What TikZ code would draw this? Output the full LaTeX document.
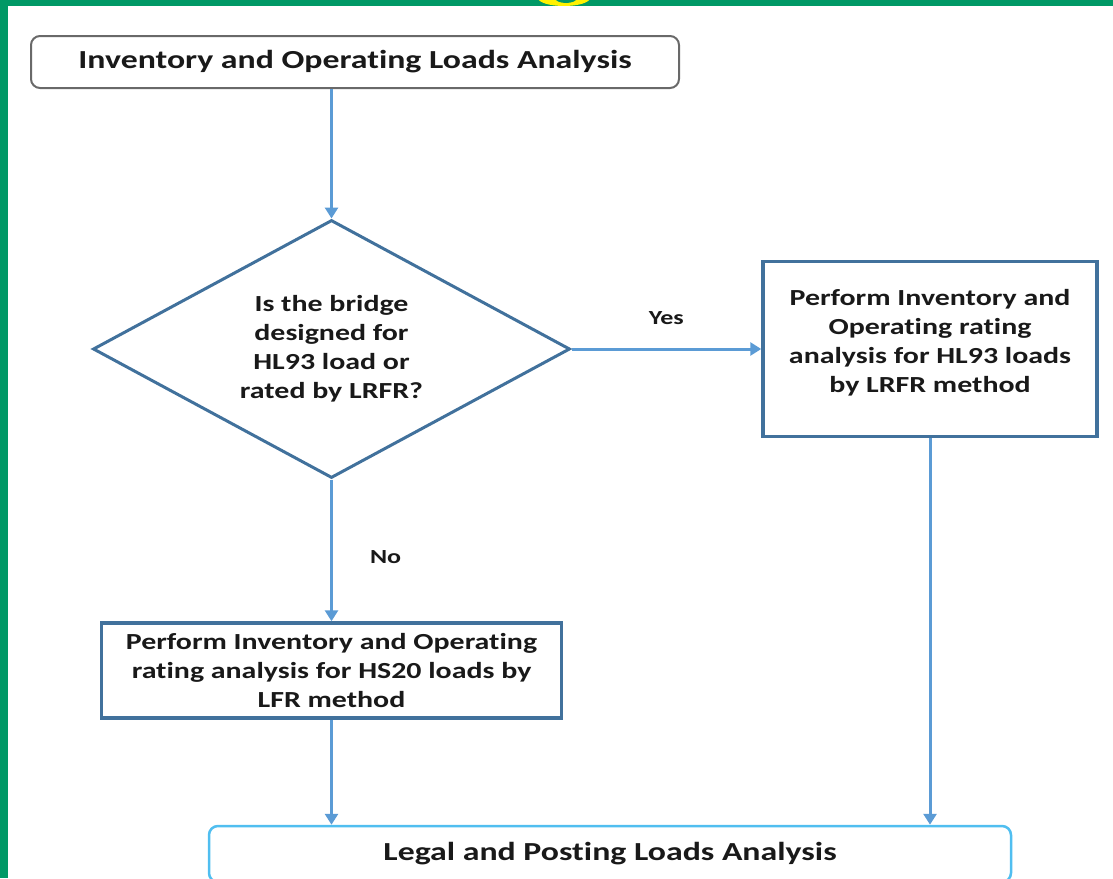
\documentclass[tikz,border=0pt]{standalone}
\usepackage{fontspec}
\setmainfont{Carlito}[FakeStretch=1.3, Ligatures={NoCommon,NoContextual}, Contextuals=NoAlternate]
\usetikzlibrary{shapes.geometric,arrows.meta}
\definecolor{framegreen}{RGB}{0,153,102}
\definecolor{ringyellow}{RGB}{255,242,0}
\definecolor{boxblue}{RGB}{65,113,156}
\definecolor{arrowblue}{RGB}{91,155,213}
\definecolor{endblue}{RGB}{80,190,240}
\definecolor{startgray}{RGB}{105,105,105}
\definecolor{textdark}{RGB}{25,25,25}

\begin{document}
\begin{tikzpicture}[x=1pt, y=1pt, node distance=2cm, auto,
  every node/.style={text=textdark, font=\bfseries},
  termbox/.style={rectangle, rounded corners=9pt, inner sep=0pt, fill=white,
    font=\bfseries\fontsize{26}{31}\selectfont},
  procbox/.style={rectangle, draw=boxblue, line width=3.5pt, inner sep=0pt, align=center,
    font=\bfseries\fontsize{23}{29}\selectfont},
  decision/.style={diamond, shape aspect=1.85, draw=boxblue, line width=3pt, inner sep=0pt,
    align=center, font=\bfseries\fontsize{23}{29}\selectfont},
  flow/.style={draw=arrowblue, line width=3pt, -{Triangle[length=11pt,width=13pt]}},
  answer/.style={font=\bfseries\fontsize{20}{24}\selectfont}]
  \useasboundingbox (0,0) rectangle (1113,-878);

  % slide frame
  \fill[framegreen] (0,0) rectangle (1113,-6);
  \fill[framegreen] (0,0) rectangle (8,-878);
  \fill[ringyellow] (564,2) ellipse (26 and 8);
  \fill[framegreen] (566,2) ellipse (11 and 5);

  \node (inv) [termbox, draw=startgray, line width=2pt, minimum width=648pt, minimum height=52pt]
    at (355,-62) {Inventory and Operating Loads Analysis};
  \node (dec) [decision, below of=inv, node distance=287pt, xshift=-23.5pt,
    minimum width=477pt, minimum height=258pt]
    {Is the bridge\\designed for\\HL93 load or\\rated by LRFR?};
  \node (hl) [procbox, right of=dec, node distance=598.5pt, minimum width=334pt, minimum height=175pt]
    {Perform Inventory and\\Operating rating\\analysis for HL93 loads\\by LRFR method\\[-12pt]};
  \node (hs) [procbox, below of=dec, node distance=321.5pt, minimum width=460pt, minimum height=95pt]
    {Perform Inventory and Operating\\rating analysis for HS20 loads by\\LFR method};
  \node (legal) [termbox, draw=endblue, line width=2.5pt, below of=hs, node distance=183.5pt,
    xshift=278.5pt, minimum width=802pt, minimum height=56pt]
    {Legal and Posting Loads Analysis};

  \draw[flow] (inv.south -| dec.north) -- (dec.north);
  \draw[flow] (dec) to node [answer, inner sep=23pt] {Yes} (hl);
  \draw[flow] (dec) to node [answer, pos=.55, inner sep=37pt] {No} (hs);
  \draw[flow] (hs.south) -- (hs.south |- legal.north);
  \draw[flow] (hl.south) -- (hl.south |- legal.north);
\end{tikzpicture}
\end{document}
